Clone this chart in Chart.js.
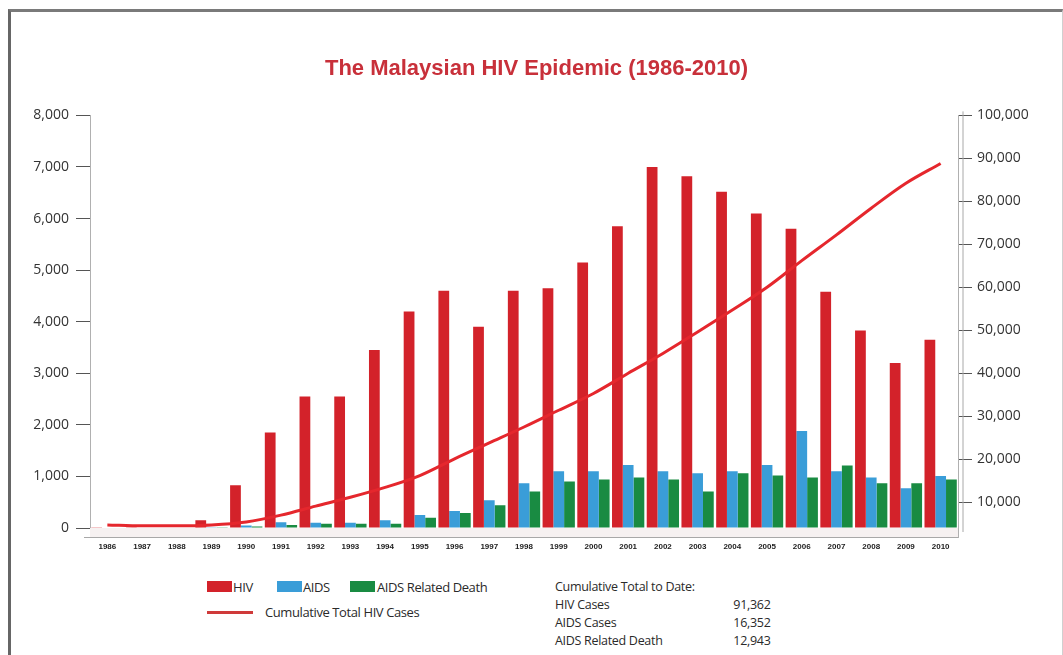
<!DOCTYPE html>
<html>
<head>
<meta charset="utf-8">
<script src="https://cdn.jsdelivr.net/npm/chart.js@4.4.1/dist/chart.umd.min.js"></script>
<style>
  body { margin: 0; background: #fff; }
  #wrap { position: relative; width: 1063px; height: 655px; overflow: hidden; font-family: 'Open Sans', sans-serif; color: #2a2a2a; }
  #frame { position: absolute; left: 8px; top: 9px; right: 0; bottom: -10px; border-left: 3px solid #666; border-top: 3px solid #7a7a7a; border-right: 1px solid #d0d0d0; }
  #chartBox { position: absolute; left: 0; top: 0; width: 1063px; height: 560px; }
  .lg { position: absolute; font-size: 13px; letter-spacing: -0.4px; line-height: 16px; white-space: nowrap; }
  .sw { position: absolute; width: 25px; height: 11px; }
  .ln { position: absolute; width: 46px; height: 3px; }
  #totals { position: absolute; left: 555px; top: 578px; font-size: 12.5px; letter-spacing: -0.3px; line-height: 18px; }
  #totals td { padding: 0; }
  #totals td.v { text-align: right; width: 108px; }
</style>
</head>
<body>
<div id="wrap">
  <div id="frame"></div>
  <div id="chartBox"><canvas id="hivChart"></canvas></div>
  <div id="legend"></div>
  <div id="totals"></div>
</div>
<script>
// yearly figures
const years = ['1986', '1987', '1988', '1989', '1990', '1991', '1992', '1993', '1994', '1995', '1996', '1997',
  '1998', '1999', '2000', '2001', '2002', '2003', '2004', '2005', '2006', '2007', '2008', '2009', '2010'];
const hivCases = [5, 5, 10, 150, 830, 1850, 2550, 2550, 3450, 4200, 4600, 3900,
  4600, 4650, 5150, 5850, 7000, 6820, 6520, 6100, 5800, 4580, 3830, 3200, 3650];
const aidsCases = [0, 0, 0, 5, 50, 110, 100, 100, 150, 250, 330, 540,
  870, 1100, 1100, 1220, 1100, 1060, 1100, 1220, 1880, 1100, 980, 770, 1010];
const aidsDeaths = [0, 0, 0, 3, 30, 60, 80, 80, 80, 200, 290, 440,
  710, 900, 940, 980, 940, 710, 1060, 1020, 980, 1210, 870, 870, 940];
const cumulativeHiv = [4700, 4500, 4500, 4700, 5400, 7000, 9100, 11150, 13450, 16200, 20100, 23800,
  27500, 31400, 35300, 40000, 44600, 49600, 54700, 60000, 66200, 72200, 78400, 84200, 88800];

const leftTicks = [0, 1000, 2000, 3000, 4000, 5000, 6000, 7000, 8000];
const rightTicks = [10000, 20000, 30000, 40000, 50000, 60000, 70000, 80000, 90000, 100000];

const totalLabels = ['HIV Cases', 'AIDS Cases', 'AIDS Related Death'];
const totalValues = [91362, 16352, 12943];

const RED = '#d3222a';
const BLUE = '#3a9dd8';
const GREEN = '#198b42';
const LINE_RED = '#e5272d';

const fmt = v => v.toLocaleString('en-US');

// light 3D-ish floor under the bars
const floorPlugin = {
  id: 'floor',
  beforeDatasetsDraw(chart) {
    const { ctx, chartArea } = chart;
    ctx.save();
    ctx.fillStyle = '#f6f1f1';
    ctx.fillRect(chartArea.left, chartArea.bottom, chartArea.right - chartArea.left, 9);
    ctx.strokeStyle = '#a8a8a8';
    ctx.lineWidth = 1;
    ctx.beginPath();
    ctx.moveTo(chartArea.left - 6, chartArea.bottom + 9.5);
    ctx.lineTo(chartArea.right, chartArea.bottom + 9.5);
    ctx.moveTo(chartArea.right + 5, chartArea.top - 4);
    ctx.lineTo(chartArea.right + 5, chartArea.bottom + 4);
    ctx.stroke();
    ctx.restore();
  }
};

new Chart(document.getElementById('hivChart'), {
  data: {
    labels: years,
    datasets: [
      { type: 'line', label: 'Cumulative Total HIV Cases', data: cumulativeHiv, yAxisID: 'y1',
        borderColor: LINE_RED, borderWidth: 3, pointRadius: 0, cubicInterpolationMode: 'monotone', order: 0 },
      { type: 'bar', label: 'HIV', data: hivCases, yAxisID: 'y', backgroundColor: RED, order: 1 },
      { type: 'bar', label: 'AIDS', data: aidsCases, yAxisID: 'y', backgroundColor: BLUE, order: 1 },
      { type: 'bar', label: 'AIDS Related Death', data: aidsDeaths, yAxisID: 'y', backgroundColor: GREEN, order: 1 }
    ]
  },
  options: {
    responsive: true,
    maintainAspectRatio: false,
    animation: false,
    datasets: { bar: { categoryPercentage: 0.93, barPercentage: 1.0 } },
    layout: { padding: { left: 10, right: 0, top: 0, bottom: 10 } },
    plugins: {
      legend: { display: false },
      tooltip: { enabled: false },
      title: {
        display: true,
        text: 'The Malaysian HIV Epidemic (1986-2010)',
        color: '#c8303a',
        font: { family: 'Liberation Sans', size: 22, weight: 'bold' },
        padding: { top: 56, bottom: 33 }
      }
    },
    scales: {
      x: {
        grid: { drawOnChartArea: false, tickLength: 10, color: '#b0b0b0', offset: true },
        border: { color: '#a0a0a0' },
        ticks: { autoSkip: false, maxRotation: 0, padding: 4, color: '#222',
          font: { family: 'Liberation Sans', size: 8, weight: 'bold' } },
        afterFit: s => { s.height = 22; }
      },
      y: {
        position: 'left',
        min: 0,
        max: 8000,
        grid: { drawOnChartArea: false, tickLength: 14, color: '#555' },
        border: { color: '#b0b0b0' },
        ticks: { padding: 7, color: '#333', callback: v => fmt(v),
          font: { family: 'Open Sans', size: 14 } },
        afterBuildTicks: s => { s.ticks = leftTicks.map(v => ({ value: v })); },
        afterFit: s => { s.width = 80; }
      },
      y1: {
        position: 'right',
        min: 4000,
        max: 100000,
        grid: { drawOnChartArea: false, tickLength: 14, color: '#555' },
        border: { color: '#b0b0b0' },
        ticks: { padding: 5, color: '#333', callback: v => fmt(v),
          font: { family: 'Open Sans', size: 14 } },
        afterBuildTicks: s => { s.ticks = rightTicks.map(v => ({ value: v })); },
        afterFit: s => { s.width = 105; }
      }
    }
  },
  plugins: [floorPlugin]
});

// legend and totals block below the chart
const legend = document.getElementById('legend');
const legendItems = [
  { kind: 'sw', color: RED, x: 207, text: 'HIV', tx: 233, y: 579 },
  { kind: 'sw', color: BLUE, x: 277, text: 'AIDS', tx: 303, y: 579 },
  { kind: 'sw', color: GREEN, x: 350, text: 'AIDS Related Death', tx: 377, y: 579 },
  { kind: 'ln', color: '#cf3a3a', x: 207, text: 'Cumulative Total HIV Cases', tx: 265, y: 604 }
];
legendItems.forEach(it => {
  const mark = document.createElement('div');
  mark.className = it.kind;
  mark.style.background = it.color;
  mark.style.left = it.x + 'px';
  mark.style.top = (it.kind === 'sw' ? it.y + 2 : it.y + 7) + 'px';
  legend.appendChild(mark);
  const t = document.createElement('div');
  t.className = 'lg';
  t.style.left = it.tx + 'px';
  t.style.top = it.y + 'px';
  t.textContent = it.text;
  legend.appendChild(t);
});

let rows = '<tr><td colspan="2">Cumulative Total to Date:</td></tr>';
totalLabels.forEach((lab, i) => {
  rows += '<tr><td>' + lab + '</td><td class="v">' + fmt(totalValues[i]) + '</td></tr>';
});
document.getElementById('totals').innerHTML = '<table cellspacing="0">' + rows + '</table>';
</script>
</body>
</html>
